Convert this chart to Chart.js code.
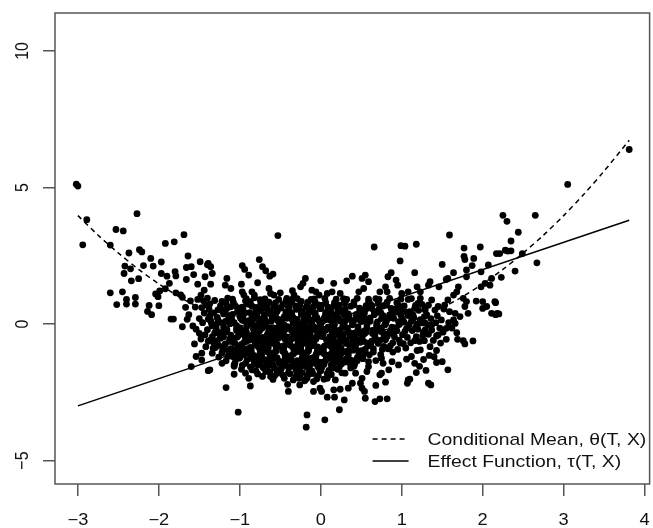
<!DOCTYPE html>
<html><head><meta charset="utf-8">
<script src="https://cdn.jsdelivr.net/npm/chart.js@4.4.0/dist/chart.umd.min.js"></script>
<style>html,body{margin:0;padding:0;background:#fff;overflow:hidden}canvas{display:block}</style>
</head><body>
<canvas id="c" width="653" height="528"></canvas>
<script>
const xTicks = [-3, -2, -1, 0, 1, 2, 3, 4];
const yTicks = [-5, 0, 5, 10];
const legendLabels = ['Conditional Mean, \u03b8(T, X)', 'Effect Function, \u03c4(T, X)'];

const curveT = [-3.0, -2.75, -2.5, -2.25, -2.0, -1.75, -1.5, -1.25, -1.0, -0.75, -0.5, -0.25, 0, 0.25, 0.5, 0.75, 1.0, 1.25, 1.5, 1.75, 2.0, 2.25, 2.5, 2.75, 3.0, 3.25, 3.5, 3.81];
const conditionalMean = [3.97, 3.25, 2.6, 2.0, 1.47, 1.0, 0.6, 0.25, -0.03, -0.25, -0.4, -0.5, -0.53, -0.5, -0.4, -0.25, -0.03, 0.25, 0.6, 1.0, 1.47, 2.0, 2.6, 3.25, 3.97, 4.75, 5.6, 6.73];
const lineT = [-3.0, 3.81];
const effectFunction = [-3.0, 3.8];

const leftTail = [[-3.02,5.12],[-3.00,5.05],[-2.89,3.82],[-2.94,2.90],[-2.27,4.04],[-2.53,3.46],[-2.44,3.41],[-2.60,2.89],[-2.37,2.60],[-2.24,2.72],[-2.21,2.64],[-2.10,2.40],[-1.97,2.27],[-1.92,2.95],[-1.81,3.01],[-1.69,3.27],[-1.64,2.49],[-2.42,2.12],[-2.35,2.02],[-2.43,1.85],[-2.19,2.14],[-2.07,2.12],[-1.97,1.85],[-1.90,1.75],[-1.80,1.92],[-1.79,1.76],[-1.66,2.07],[-1.60,2.10],[-2.34,1.58],[-2.25,1.66],[-1.87,1.49],[-1.92,1.29],[-1.99,1.21],[-2.04,1.10],[-2.01,1.00],[-1.79,1.14],[-1.73,1.07],[-1.71,0.98],[-1.66,1.63],[-2.60,1.14],[-2.45,1.18],[-2.52,0.71],[-2.40,0.90],[-2.40,0.73],[-2.29,0.97],[-2.29,0.73],[-2.12,0.68],[-2.00,0.67],[-2.09,0.34],[-2.14,0.46],[-1.85,0.18],[-1.82,0.18],[-1.67,0.61],[-1.63,0.34],[-1.65,0.17],[-1.71,-0.10],[-1.58,-0.07],[-1.54,-0.19],[-1.50,-0.34],[-1.56,-0.73],[-1.54,-1.19],[-1.47,-1.07],[-1.47,-1.32],[-1.60,-1.56],[-1.39,-1.71],[-1.52,1.46],[-1.49,2.28],[-1.40,2.17],[-1.57,1.81],[-1.43,1.73],[-1.39,2.22],[-1.36,2.10],[-1.34,1.85],[-1.36,1.46],[-1.44,1.24],[-1.48,1.06],[-1.45,0.85],[-1.42,0.70],[-1.47,0.60],[-1.40,0.95],[-1.44,0.40],[-1.50,0.20],[-1.46,0.05],[-1.43,-0.40],[-1.48,-0.55],[-1.52,0.90],[-1.55,0.62],[-1.61,0.85]];

const upperFringe = [[-0.53,3.24],[-0.76,2.36],[-0.72,2.10],[-0.68,1.95],[-0.97,2.14],[-0.94,2.00],[-0.89,1.79],[-0.63,1.75],[-0.59,1.83],[-0.78,1.51],[-1.16,1.67],[-1.18,1.42],[-1.11,1.30],[-0.98,1.46],[-0.19,1.67],[-0.22,1.49],[-0.25,1.36],[0.00,1.58],[0.16,1.49],[0.32,1.58],[-0.35,1.22],[-0.33,1.06],[-0.11,1.24],[-0.06,1.18],[-0.02,1.06],[0.08,1.12],[0.14,1.18],[0.24,1.12],[-0.64,1.30],[-0.62,1.12],[-0.50,1.14],[-0.58,1.06],[-0.85,1.18],[-0.82,1.06],[-0.97,1.18],[-0.95,1.06]];

const rightSide = [[1.59,3.26],[0.66,2.82],[0.99,2.87],[1.04,2.85],[1.18,2.92],[1.77,2.78],[1.97,2.82],[1.77,2.48],[1.78,2.36],[1.89,2.40],[0.98,2.31],[1.50,2.18],[1.87,2.14],[2.07,2.16],[2.17,2.58],[1.80,1.98],[1.16,1.88],[0.87,1.88],[0.83,1.73],[0.39,1.75],[0.55,1.79],[0.51,1.67],[0.93,1.61],[0.95,1.42],[1.35,1.55],[1.33,1.42],[1.64,1.88],[1.57,1.67],[1.55,1.63],[1.80,1.73],[1.98,1.91],[2.03,1.49],[1.98,1.36],[2.11,1.67],[2.09,1.42],[1.70,1.36],[1.68,1.18],[1.64,1.06],[1.46,1.36],[1.19,1.36],[1.23,1.18],[1.08,1.18],[1.00,1.12],[0.59,1.55],[0.53,1.30],[0.47,1.18],[0.80,1.36],[0.82,1.18],[0.73,1.18],[1.76,0.94],[1.80,0.82],[1.78,0.64],[1.92,0.84],[2.00,0.82],[2.05,0.64],[2.15,0.82],[1.57,0.88],[1.53,0.69],[1.37,0.88],[1.33,0.69],[1.41,0.51],[1.45,0.64],[1.23,0.94],[1.20,0.75],[1.29,0.51],[1.59,0.45],[1.66,0.39],[1.72,0.27],[1.82,0.39],[1.64,0.15],[2.00,0.57],[2.11,0.39],[1.49,0.15],[1.37,-0.04],[1.29,0.03],[3.05,5.11],[2.25,3.98],[2.65,3.98],[2.30,3.76],[2.44,3.36],[2.35,3.04],[2.21,2.58],[2.28,2.70],[2.31,2.67],[2.35,2.68],[2.49,2.58],[2.67,2.24],[2.40,1.94],[2.23,1.71],[2.16,0.78],[2.18,0.39],[2.20,0.37],[2.16,0.34],[3.81,6.39]];

const lowerFringe = [[1.88,-0.62],[1.78,-0.73],[1.76,-0.61],[1.68,-0.32],[1.69,-0.56],[1.57,-1.68],[1.43,-1.41],[1.50,-1.38],[1.55,-0.56],[1.43,-0.44],[1.45,-0.40],[1.35,-0.83],[1.43,-0.97],[1.33,-2.17],[1.36,-2.23],[1.08,-2.05],[1.10,-2.02],[1.18,-1.78],[1.07,-2.17],[0.82,-2.74],[0.73,-2.74],[0.67,-2.84],[0.55,-2.72],[0.80,-2.13],[0.68,-2.25],[1.16,-1.44],[1.12,-1.19],[1.06,-1.29],[1.23,-0.95],[1.19,-0.97],[1.33,-0.04],[1.29,-0.22],[1.37,-0.22],[1.28,-0.61],[1.16,-0.61],[0.88,-1.38],[0.96,-1.50],[0.75,-1.25],[0.77,-1.44],[0.84,-1.68],[0.75,-1.80],[0.73,-1.86],[0.59,-1.56],[0.57,-1.74],[0.43,-1.80],[0.51,-1.99],[0.49,-2.17],[0.54,-2.47],[0.51,-2.35],[0.39,-2.17],[0.34,-2.35],[1.55,-0.16],[1.66,0.02],[-1.02,-3.23],[-0.17,-3.33],[-0.18,-3.78],[0.05,-3.51],[0.23,-3.14],[-1.37,-1.68],[-1.17,-2.33],[-1.07,-1.84],[-0.87,-2.27],[-0.89,-1.99],[-0.93,-1.80],[-0.85,-1.68],[-0.72,-1.92],[-0.68,-1.74],[-0.62,-1.92],[-0.41,-2.21],[-0.40,-2.47],[-0.26,-2.23],[-0.27,-1.99],[-0.15,-1.80],[-0.17,-1.99],[-0.09,-2.47],[-0.01,-2.35],[0.01,-2.47],[0.08,-2.68],[0.17,-2.68],[0.29,-2.78],[0.08,-1.99],[0.16,-2.41],[0.18,-2.05],[-0.09,-2.11],[-0.11,-1.80],[0.24,-2.39],[0.30,-1.80],[-1.22,-1.44],[-1.34,-1.07],[-1.42,-0.83],[-1.09,-1.19],[-1.01,-1.25],[-1.07,-1.50],[-0.72,-1.56],[-0.62,-1.50]];

const core = [
[-1.37,0.74],[-1.32,0.41],[-1.39,0.18],[-1.34,-0.07],[-1.31,-0.33],[-1.36,-0.58],[-1.33,-0.89],[-1.38,0.55],[-1.35,0.02],[-1.40,-0.21],[-1.32,-0.71],[-1.37,0.29],[-1.34,-0.46],[-1.31,0.86],[-1.39,-0.63],[-1.36,0.12],
[-1.22,0.83],[-1.27,0.52],[-1.20,0.37],[-1.25,0.06],[-1.29,-0.17],[-1.23,-0.45],[-1.28,-0.61],[-1.21,-0.94],[-1.26,-1.21],[-1.24,0.66],[-1.28,0.24],[-1.23,-0.31],[-1.26,-0.78],[-1.21,0.45],[-1.29,-0.02],[-1.24,-0.52],[-1.22,-1.05],[-1.27,0.15],[-1.25,-0.38],[-1.30,-0.86],
[-1.15,0.95],[-1.11,0.63],[-1.18,0.42],[-1.14,0.19],[-1.20,-0.11],[-1.16,-0.28],[-1.12,-0.55],[-1.19,-0.84],[-1.13,-1.03],[-1.17,-1.35],[-1.19,0.52],[-1.13,0.31],[-1.16,-0.20],[-1.11,-0.41],[-1.18,-0.73],[-1.14,-0.99],[-1.12,0.01],[-1.17,0.76],[-1.15,-1.19],[-1.20,-0.47],[-1.13,-0.64],[-1.18,0.09],[-1.11,-0.90],[-1.16,0.57],
[-1.09,0.91],[-1.06,0.68],[-1.03,0.44],[-1.00,0.28],[-1.07,0.05],[-1.04,-0.24],[-1.01,-0.40],[-1.08,-0.66],[-1.05,-0.95],[-1.02,-1.19],[-1.06,-1.43],[-1.03,0.60],[-1.09,0.35],[-1.04,-0.06],[-1.01,-0.30],[-1.07,-0.53],[-1.02,-0.79],[-1.08,-1.08],[-1.05,-1.30],[-1.10,0.17],[-1.03,-0.48],[-1.06,-0.71],[-1.01,-1.00],[-1.08,0.80],[-1.04,-0.16],[-1.07,-1.55],[-1.02,0.46],[-1.09,-0.61],
[-0.92,0.93],[-0.97,0.62],[-0.94,0.40],[-0.99,0.21],[-0.91,-0.06],[-0.96,-0.23],[-0.93,-0.53],[-0.98,-0.75],[-0.95,-0.97],[-1.00,-1.24],[-0.93,-1.44],[-0.98,-1.66],[-0.91,0.73],[-0.96,0.29],[-0.94,0.10],[-0.99,-0.36],[-0.92,-0.64],[-0.97,-0.88],[-0.95,-1.13],[-0.91,-1.31],[-0.96,0.53],[-1.00,-0.14],[-0.93,-0.45],[-0.98,-0.81],[-0.94,-1.05],[-0.97,0.14],[-0.92,-0.27],[-0.99,0.39],[-0.95,-0.68],[-0.91,-0.91],[-0.97,-1.52],[-0.93,0.85],
[-0.82,0.96],[-0.87,0.71],[-0.80,0.48],[-0.85,0.25],[-0.89,0.03],[-0.83,-0.19],[-0.88,-0.43],[-0.81,-0.66],[-0.86,-0.93],[-0.84,-1.12],[-0.82,-1.39],[-0.87,-1.57],[-0.80,0.61],[-0.85,0.37],[-0.89,0.12],[-0.83,-0.35],[-0.88,-0.59],[-0.81,-0.77],[-0.86,-1.01],[-0.84,-1.28],[-0.82,-1.47],[-0.87,0.82],[-0.80,-0.10],[-0.85,-0.49],[-0.89,-0.98],[-0.83,0.19],[-0.88,0.42],[-0.81,-0.71],[-0.86,-1.22],[-0.84,-0.01],[-0.82,-0.28],[-0.87,-0.86],[-0.80,-1.72],[-0.85,0.65],[-0.89,-1.07],[-0.83,-0.42],
[-0.75,0.89],[-0.71,0.64],[-0.78,0.45],[-0.74,0.18],[-0.70,-0.03],[-0.76,-0.27],[-0.72,-0.49],[-0.79,-0.72],[-0.73,-0.90],[-0.77,-1.18],[-0.75,-1.41],[-0.71,-1.60],[-0.78,-1.83],[-0.74,0.53],[-0.70,0.34],[-0.76,0.07],[-0.72,-0.15],[-0.79,-0.38],[-0.73,-0.61],[-0.77,-0.83],[-0.75,-1.06],[-0.71,-1.29],[-0.78,-1.49],[-0.74,0.75],[-0.70,-0.65],[-0.76,-0.88],[-0.72,0.16],[-0.79,-0.44],[-0.73,-1.12],[-0.77,0.47],[-0.75,-0.21],[-0.71,-0.99],[-0.78,-1.35],[-0.74,-0.01],[-0.70,0.86],[-0.76,-0.54],[-0.72,-0.77],[-0.79,0.29],
[-0.69,0.92],[-0.66,0.69],[-0.63,0.49],[-0.60,0.23],[-0.67,0.04],[-0.64,-0.22],[-0.61,-0.41],[-0.68,-0.67],[-0.65,-0.86],[-0.62,-1.13],[-0.69,-1.32],[-0.66,-1.59],[-0.63,-1.76],[-0.60,-1.95],[-0.67,0.56],[-0.64,0.38],[-0.61,0.11],[-0.68,-0.07],[-0.65,-0.34],[-0.62,-0.52],[-0.69,-0.79],[-0.66,-1.02],[-0.63,-1.21],[-0.60,-1.48],[-0.67,-1.65],[-0.64,0.80],[-0.61,-0.24],[-0.68,-0.58],[-0.65,-0.96],[-0.62,-1.26],[-0.69,0.17],[-0.66,-0.39],[-0.63,-0.70],[-0.60,-1.08],[-0.67,-1.38],[-0.64,0.44],[-0.61,-0.13],[-0.68,0.66],[-0.65,-0.81],[-0.62,-1.16],
[-0.52,0.90],[-0.57,0.65],[-0.54,0.46],[-0.59,0.20],[-0.51,-0.03],[-0.56,-0.21],[-0.53,-0.48],[-0.58,-0.71],[-0.55,-0.90],[-0.60,-1.16],[-0.52,-1.36],[-0.57,-1.62],[-0.54,-1.80],[-0.59,-2.03],[-0.51,0.58],[-0.56,0.31],[-0.53,0.12],[-0.58,-0.14],[-0.55,-0.37],[-0.60,-0.55],[-0.52,-0.82],[-0.57,-1.04],[-0.54,-1.24],[-0.59,-1.51],[-0.51,-1.69],[-0.56,0.77],[-0.53,-0.29],[-0.58,-0.62],[-0.55,-0.99],[-0.60,-1.33],[-0.52,0.17],[-0.57,-0.43],[-0.54,-0.74],[-0.59,-1.10],[-0.51,-1.45],[-0.56,0.40],[-0.53,-0.17],[-0.58,0.63],[-0.55,-0.85],[-0.60,-1.19],[-0.52,-0.51],[-0.57,-1.90],
[-0.42,0.94],[-0.47,0.72],[-0.40,0.47],[-0.45,0.27],[-0.49,0.02],[-0.43,-0.18],[-0.48,-0.45],[-0.41,-0.63],[-0.46,-0.89],[-0.44,-1.09],[-0.42,-1.35],[-0.47,-1.54],[-0.40,-1.79],[-0.45,-1.99],[-0.49,0.59],[-0.43,0.36],[-0.48,0.15],[-0.41,-0.10],[-0.46,-0.30],[-0.44,-0.56],[-0.42,-0.74],[-0.47,-1.00],[-0.40,-1.20],[-0.45,-1.46],[-0.49,-1.66],[-0.43,0.84],[-0.48,-0.23],[-0.41,-0.60],[-0.46,-0.95],[-0.44,-1.26],[-0.42,0.21],[-0.47,-0.36],[-0.40,-0.69],[-0.45,-1.05],[-0.49,-1.40],[-0.43,0.44],[-0.48,-0.12],[-0.41,0.68],[-0.46,-0.80],[-0.44,-1.17],[-0.42,-0.47],[-0.47,-1.87],[-0.40,-1.58],[-0.45,-0.04],
[-0.35,0.91],[-0.31,0.66],[-0.38,0.44],[-0.34,0.23],[-0.30,-0.02],[-0.36,-0.25],[-0.32,-0.46],[-0.39,-0.71],[-0.33,-0.91],[-0.37,-1.16],[-0.35,-1.37],[-0.31,-1.63],[-0.38,-1.82],[-0.34,-2.05],[-0.30,0.54],[-0.36,0.33],[-0.32,0.08],[-0.39,-0.14],[-0.33,-0.37],[-0.37,-0.57],[-0.35,-0.83],[-0.31,-1.03],[-0.38,-1.28],[-0.34,-1.49],[-0.30,-1.74],[-0.36,0.79],[-0.32,-0.31],[-0.39,-0.65],[-0.33,-0.97],[-0.37,-1.33],[-0.35,0.14],[-0.31,-0.41],[-0.38,-0.77],[-0.34,-1.10],[-0.30,-1.43],[-0.36,0.39],[-0.32,-0.20],[-0.39,0.60],[-0.33,-0.86],[-0.37,-1.22],[-0.35,-0.52],[-0.31,-1.94],[-0.38,-1.57],[-0.34,0.02],
[-0.29,0.93],[-0.26,0.69],[-0.23,0.48],[-0.20,0.25],[-0.27,0.01],[-0.24,-0.22],[-0.21,-0.43],[-0.28,-0.68],[-0.25,-0.88],[-0.22,-1.14],[-0.29,-1.34],[-0.26,-1.60],[-0.23,-1.78],[-0.20,-2.08],[-0.27,0.57],[-0.24,0.35],[-0.21,0.11],[-0.28,-0.11],[-0.25,-0.35],[-0.22,-0.54],[-0.29,-0.80],[-0.26,-1.01],[-0.23,-1.25],[-0.20,-1.46],[-0.27,-1.70],[-0.24,0.83],[-0.21,-0.28],[-0.28,-0.62],[-0.25,-0.94],[-0.22,-1.30],[-0.29,0.17],[-0.26,-0.40],[-0.23,-0.73],[-0.20,-1.07],[-0.27,-1.41],[-0.24,0.42],[-0.21,-0.15],[-0.28,0.65],[-0.25,-0.84],[-0.22,-1.19],[-0.29,-0.49],[-0.26,-1.91],[-0.23,-1.53],[-0.20,0.04],
[-0.12,0.90],[-0.17,0.67],[-0.14,0.45],[-0.19,0.22],[-0.11,-0.01],[-0.16,-0.24],[-0.13,-0.45],[-0.18,-0.70],[-0.15,-0.92],[-0.20,-1.15],[-0.12,-1.38],[-0.17,-1.59],[-0.14,-1.83],[-0.19,-2.04],[-0.11,0.55],[-0.16,0.32],[-0.13,0.10],[-0.18,-0.13],[-0.15,-0.36],[-0.20,-0.58],[-0.12,-0.81],[-0.17,-1.04],[-0.14,-1.27],[-0.19,-1.50],[-0.11,-1.72],[-0.16,0.80],[-0.13,-0.30],[-0.18,-0.64],[-0.15,-0.98],[-0.20,-1.32],[-0.12,0.15],[-0.17,-0.42],[-0.14,-0.76],[-0.19,-1.10],[-0.11,-1.44],[-0.16,0.38],[-0.13,-0.19],[-0.18,0.61],[-0.15,-0.87],[-0.20,-1.21],[-0.12,-0.52],[-0.17,-1.92],[-0.14,-1.56],[-0.19,0.03],
[-0.08,0.92],[-0.03,0.70],[-0.10,0.46],[-0.05,0.24],[-0.01,0.02],[-0.07,-0.20],[-0.02,-0.44],[-0.09,-0.67],[-0.04,-0.89],[-0.06,-1.13],[-0.08,-1.36],[-0.03,-1.58],[-0.10,-1.81],[-0.05,-2.01],[-0.01,0.58],[-0.07,0.35],[-0.02,0.12],[-0.09,-0.10],[-0.04,-0.33],[-0.06,-0.56],[-0.08,-0.79],[-0.03,-1.02],[-0.10,-1.24],[-0.05,-1.47],[-0.01,-1.70],[-0.07,0.81],[-0.02,-0.27],[-0.09,-0.61],[-0.04,-0.95],[-0.06,-1.29],[-0.08,0.18],[-0.03,-0.39],[-0.10,-0.73],[-0.05,-1.07],[-0.01,-1.41],[-0.07,0.41],[-0.02,-0.16],[-0.09,0.64],[-0.04,-0.84],[-0.06,-1.18],[-0.08,-0.50],[-0.03,-1.89],
[0.05,0.94],[0.01,0.68],[0.08,0.47],[0.04,0.21],[0.00,0.00],[0.06,-0.23],[0.02,-0.46],[0.09,-0.69],[0.03,-0.91],[0.07,-1.14],[0.05,-1.37],[0.01,-1.61],[0.08,-1.82],[0.04,-2.02],[0.00,0.56],[0.06,0.33],[0.02,0.09],[0.09,-0.12],[0.03,-0.35],[0.07,-0.58],[0.05,-0.80],[0.01,-1.03],[0.08,-1.26],[0.04,-1.48],[0.00,-1.71],[0.06,0.79],[0.02,-0.29],[0.09,-0.63],[0.03,-0.97],[0.07,-1.31],[0.05,0.16],[0.01,-0.41],[0.08,-0.74],[0.04,-1.09],[0.00,-1.42],[0.06,0.39],[0.02,-0.18],[0.09,0.62],[0.03,-0.86],[0.07,-1.20],
[0.19,0.91],[0.16,0.66],[0.13,0.44],[0.10,0.20],[0.17,-0.02],[0.14,-0.25],[0.11,-0.47],[0.18,-0.70],[0.15,-0.93],[0.12,-1.15],[0.19,-1.38],[0.16,-1.61],[0.13,-1.85],[0.10,0.55],[0.17,0.32],[0.14,0.08],[0.11,-0.13],[0.18,-0.36],[0.15,-0.59],[0.12,-0.81],[0.19,-1.04],[0.16,-1.27],[0.13,-1.50],[0.10,-1.70],[0.17,0.78],[0.14,-0.30],[0.11,-0.64],[0.18,-0.98],[0.15,-1.32],[0.12,0.14],[0.19,-0.42],[0.16,-0.76],[0.13,-1.09],[0.10,0.37],[0.17,-0.19],[0.14,-0.87],
[0.28,0.93],[0.23,0.69],[0.26,0.47],[0.21,0.24],[0.29,0.01],[0.24,-0.22],[0.27,-0.44],[0.22,-0.66],[0.25,-0.89],[0.20,-1.12],[0.28,-1.34],[0.23,-1.57],[0.26,-1.79],[0.21,0.57],[0.29,0.34],[0.24,0.11],[0.27,-0.11],[0.22,-0.33],[0.25,-0.55],[0.20,-0.78],[0.28,-1.01],[0.23,-1.23],[0.26,-1.46],[0.21,-1.66],[0.29,0.80],[0.24,-0.27],[0.27,-0.61],[0.22,-0.95],[0.25,-1.29],[0.20,0.17],[0.28,-0.39],[0.23,-0.72],[0.26,-1.06],[0.21,0.40],
[0.32,0.90],[0.37,0.65],[0.30,0.43],[0.35,0.20],[0.39,-0.03],[0.33,-0.26],[0.38,-0.48],[0.31,-0.71],[0.36,-0.93],[0.34,-1.16],[0.32,-1.39],[0.37,-1.61],[0.30,0.54],[0.35,0.31],[0.39,0.08],[0.33,-0.15],[0.38,-0.37],[0.31,-0.59],[0.36,-0.82],[0.34,-1.05],[0.32,-1.27],[0.37,-1.50],[0.30,0.77],[0.35,-0.31],[0.39,-0.65],[0.33,-0.99],[0.38,-1.33],[0.31,0.14],[0.36,-0.43],[0.34,0.37],
[0.45,0.94],[0.41,0.70],[0.48,0.46],[0.44,0.23],[0.40,0.00],[0.46,-0.22],[0.42,-0.45],[0.49,-0.67],[0.43,-0.90],[0.47,-1.12],[0.45,-1.35],[0.41,-1.55],[0.48,0.58],[0.44,0.35],[0.40,0.12],[0.46,-0.11],[0.42,-0.33],[0.49,-0.56],[0.43,-0.78],[0.47,-1.01],[0.45,-1.24],[0.41,0.81],[0.48,-0.28],[0.44,-0.62],[0.40,-0.96],[0.46,0.17],[0.42,-1.46],[0.49,0.40],
[0.59,0.91],[0.56,0.67],[0.53,0.44],[0.50,0.21],[0.57,-0.02],[0.54,-0.25],[0.51,-0.47],[0.58,-0.70],[0.55,-0.92],[0.52,-1.15],[0.59,-1.38],[0.56,0.55],[0.53,0.32],[0.50,0.09],[0.57,-0.13],[0.54,-0.36],[0.51,-0.59],[0.58,-0.81],[0.55,-1.04],[0.52,-1.27],[0.59,0.78],[0.56,-0.30],[0.53,-0.64],[0.50,-0.98],[0.57,0.15],[0.54,0.40],
[0.68,0.93],[0.63,0.68],[0.66,0.46],[0.61,0.22],[0.69,-0.01],[0.64,-0.23],[0.67,-0.46],[0.62,-0.69],[0.65,-0.91],[0.60,-1.13],[0.68,-1.34],[0.63,0.57],[0.66,0.34],[0.61,0.10],[0.69,-0.12],[0.64,-0.35],[0.67,-0.58],[0.62,-0.80],[0.65,-1.03],[0.60,0.79],[0.68,-0.28],[0.63,-0.63],
[0.72,0.90],[0.77,0.66],[0.70,0.43],[0.75,0.20],[0.79,-0.03],[0.73,-0.26],[0.78,-0.48],[0.71,-0.71],[0.76,-0.93],[0.74,-1.12],[0.72,0.55],[0.77,0.31],[0.70,0.08],[0.75,-0.14],[0.79,-0.37],[0.73,-0.60],[0.78,-0.82],[0.71,0.77],[0.76,-0.30],[0.74,0.42],
[0.85,0.94],[0.81,0.69],[0.88,0.45],[0.84,0.22],[0.80,-0.01],[0.86,-0.24],[0.82,-0.46],[0.89,-0.69],[0.83,-0.91],[0.87,0.57],[0.85,0.33],[0.81,0.10],[0.88,-0.12],[0.84,-0.35],[0.80,-0.58],[0.86,-0.80],[0.82,0.80],[0.89,-1.03],
[0.99,0.91],[0.96,0.67],[0.93,0.44],[0.90,0.21],[0.97,-0.02],[0.94,-0.25],[0.91,-0.47],[0.98,-0.70],[0.95,-0.93],[0.92,0.55],[0.99,0.32],[0.96,0.09],[0.93,-0.13],[0.90,-0.36],[0.97,-0.59],[0.94,0.78],
[1.08,0.90],[1.03,0.66],[1.06,0.43],[1.01,0.19],[1.09,-0.04],[1.04,-0.27],[1.07,-0.49],[1.02,-0.72],[1.05,-0.88],[1.00,0.54],[1.08,0.31],[1.03,0.07],[1.06,-0.16],[1.01,-0.39],
[1.12,0.93],[1.17,0.68],[1.10,0.45],[1.15,0.22],[1.19,-0.01],[1.13,-0.24],[1.18,-0.46],[1.11,-0.69],[1.16,0.57],[1.14,0.33],[1.12,0.10],[1.17,-0.13],
[1.25,0.72],[1.21,0.50],[1.28,0.27],[1.24,0.04],[1.20,-0.19],[1.26,-0.42],[1.22,-0.64],[1.29,0.61],[1.23,0.16],[1.27,-0.30],
[1.31,0.33],[1.36,0.20],[1.33,-0.38],[1.39,-0.60],[1.42,0.05],[1.47,-0.15],[1.44,0.30],[1.51,-0.30],[1.52,0.55],[1.48,-0.70],[1.58,0.05],[1.62,-0.15],[1.34,-1.15],[1.40,-1.20],[1.27,-1.30],[1.22,-1.55],[1.30,-1.70]
];

const FONT = '"Liberation Sans", Arial, Helvetica, sans-serif';
const TEXT_STRETCH = 1.14;
const fmt = v => (v < 0 ? '\u2212' + Math.abs(v) : String(v));
const toXY = arr => arr.map(p => ({ x: p[0], y: p[1] }));
const scatterPoints = toXY([].concat(leftTail, upperFringe, rightSide, lowerFringe, core));

const decor = {
  id: 'decor',
  afterDraw(chart) {
    const { ctx, chartArea: a, scales: { x, y } } = chart;
    ctx.save();
    ctx.strokeStyle = '#555';
    ctx.lineWidth = 1.5;
    ctx.strokeRect(a.left, a.top, a.right - a.left, a.bottom - a.top);
    ctx.fillStyle = '#111';
    ctx.font = '16px ' + FONT;
    ctx.textAlign = 'center';
    ctx.textBaseline = 'alphabetic';
    xTicks.forEach(v => {
      ctx.save();
      ctx.translate(x.getPixelForValue(v), a.bottom + 41);
      ctx.scale(TEXT_STRETCH, 1);
      ctx.fillText(fmt(v), 0, 0);
      ctx.restore();
    });
    yTicks.forEach(v => {
      ctx.save();
      ctx.translate(28, y.getPixelForValue(v));
      ctx.scale(TEXT_STRETCH, 1);
      ctx.rotate(-Math.PI / 2);
      ctx.fillText(fmt(v), 0, 0);
      ctx.restore();
    });
    const lx0 = a.right - 277, lx1 = a.right - 241, tx = a.right - 222;
    const rows = [a.bottom - 45, a.bottom - 23];
    ctx.font = '17px ' + FONT;
    ctx.textAlign = 'left';
    chart.data.datasets.slice(0, 2).forEach((ds, i) => {
      ctx.beginPath();
      ctx.setLineDash(ds.borderDash || []);
      ctx.lineWidth = ds.borderWidth;
      ctx.strokeStyle = ds.borderColor;
      ctx.moveTo(lx0, rows[i]);
      ctx.lineTo(lx1, rows[i]);
      ctx.stroke();
      ctx.setLineDash([]);
      ctx.fillStyle = '#111';
      ctx.save();
      ctx.translate(tx, rows[i] + 6);
      ctx.scale(TEXT_STRETCH, 1);
      ctx.fillText(ds.label, 0, 0);
      ctx.restore();
    });
    ctx.restore();
  }
};

new Chart(document.getElementById('c').getContext('2d'), {
  type: 'scatter',
  data: {
    datasets: [
      { type: 'line', label: legendLabels[0], data: curveT.map((t, i) => ({ x: t, y: conditionalMean[i] })),
        borderColor: '#000', borderWidth: 1.5, borderDash: [5, 4], pointRadius: 0, fill: false, tension: 0.3, order: 0 },
      { type: 'line', label: legendLabels[1], data: lineT.map((t, i) => ({ x: t, y: effectFunction[i] })),
        borderColor: '#000', borderWidth: 1.5, pointRadius: 0, fill: false, order: 1 },
      { label: 'Observations', data: scatterPoints, backgroundColor: '#000', borderWidth: 0,
        pointRadius: 3.4, pointHoverRadius: 3.4, order: 2 }
    ]
  },
  options: {
    responsive: false, animation: false, devicePixelRatio: 1, events: [],
    layout: { padding: { top: 13, right: 1, left: 0, bottom: 0 } },
    plugins: { legend: { display: false }, tooltip: { enabled: false } },
    scales: {
      x: {
        type: 'linear', min: -3.283, max: 4.062,
        afterBuildTicks: s => { s.ticks = xTicks.map(v => ({ value: v })); },
        afterFit: s => { s.height = 44; s.paddingLeft = 0; s.paddingRight = 0; },
        grid: { drawOnChartArea: false, drawTicks: true, tickLength: 12, color: '#555', lineWidth: 1.5 },
        border: { display: false },
        ticks: { callback: () => '', padding: 0, autoSkip: false, maxRotation: 0 }
      },
      y: {
        type: 'linear', min: -5.86, max: 11.39,
        afterBuildTicks: s => { s.ticks = yTicks.map(v => ({ value: v })); },
        afterFit: s => { s.width = 55; s.paddingTop = 0; s.paddingBottom = 0; },
        grid: { drawOnChartArea: false, drawTicks: true, tickLength: 12, color: '#555', lineWidth: 1.5 },
        border: { display: false },
        ticks: { callback: () => '', padding: 0, autoSkip: false }
      }
    }
  },
  plugins: [decor]
});
</script>
</body></html>
